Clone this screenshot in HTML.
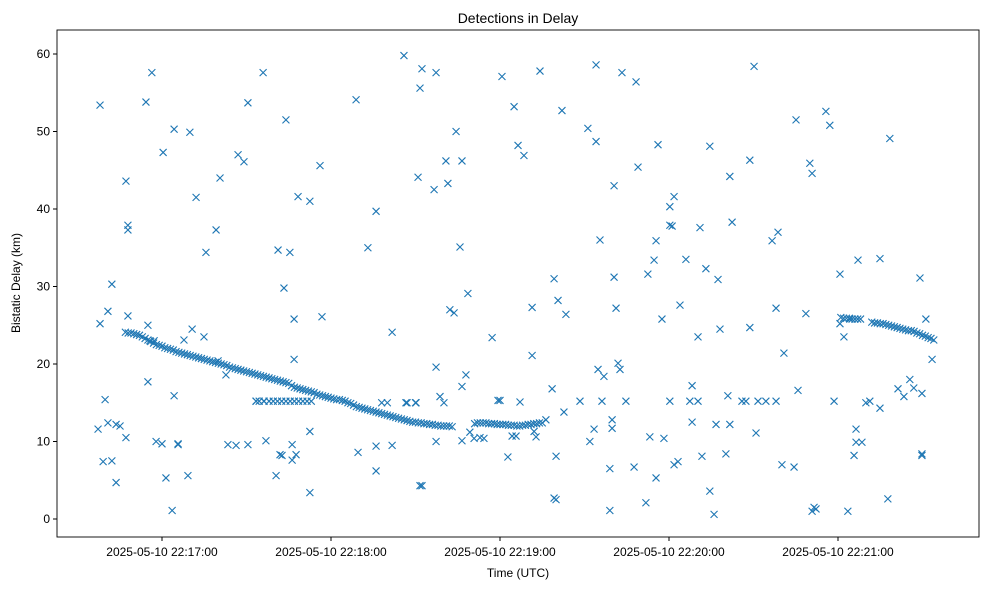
<!DOCTYPE html>
<html><head><meta charset="utf-8"><style>
html,body{margin:0;padding:0;background:#fff;}
svg text{font-family:"Liberation Sans","DejaVu Sans",sans-serif;fill:#000;}
</style></head><body>
<svg id="chart" width="989" height="590" xmlns="http://www.w3.org/2000/svg">
<rect x="0" y="0" width="989" height="590" fill="#fff"/>
<text x="518" y="23" font-size="14" text-anchor="middle">Detections in Delay</text>
<g id="marks"></g>
<g id="axes"></g>
<rect x="57" y="30" width="922" height="507" fill="none" stroke="#000" stroke-width="0.9"/>
<text x="518" y="577" font-size="12" text-anchor="middle">Time (UTC)</text>
<text x="20" y="283" font-size="12" text-anchor="middle" transform="rotate(-90 20 283)">Bistatic Delay (km)</text>
</svg>
<script>
// times in seconds since 22:16:00 UTC, values in km
const xTickSeconds = [60, 120, 180, 240, 300];
const xTickLabels = ["2025-05-10 22:17:00","2025-05-10 22:18:00","2025-05-10 22:19:00","2025-05-10 22:20:00","2025-05-10 22:21:00"];
const yTicks = [0, 10, 20, 30, 40, 50, 60];

const scatterTimes = [37.3,38.0,38.0,39.1,39.8,40.8,40.8,42.2,42.2,43.7,43.7,45.1,47.2,47.9,47.9,47.9,47.2,54.3,55.0,55.0,56.4,55.7,57.2,57.9,60,60.4,61.4,63.6,64.3,64.3,65.7,65.7,67.8,69.2,69.9,70.7,72.1,74.9,75.6,79.2,79.9,80.6,82.7,83.4,86.3,87.0,89.1,90.5,90.5,93.4,95.9,96.9,96.2,100.5,101.2,101.9,102.6,103.3,104.0,105.4,106.2,106.2,106.9,106.9,107.6,108.3,112.5,112.5,112.5,116.1,116.8,128.9,129.6,133.1,136.0,136.0,136.0,141.7,141.7,145.9,146.6,150.9,151.6,152.3,152.3,151.6,150.2,157.3,156.6,157.3,157.3,158.7,160.1,160.8,161.5,162.2,163.7,164.4,165.8,166.5,166.5,166.5,167.9,168.6,169.3,170.8,172.9,174.3,177.2,179.3,180.0,180.7,182.8,184.3,185.0,185.7,186.4,187.1,188.5,191.4,191.4,192.1,192.8,194.2,196.3,198.5,199.2,199.2,199.9,199.9,200.6,202.0,202.7,203.4,208.4,211.2,211.9,213.4,214.1,214.1,214.8,215.5,216.2,216.9,219.0,219.0,219.8,219.8,220.5,220.5,221.2,221.9,222.6,223.3,224.7,227.6,228.3,229.0,231.8,232.5,233.2,234.7,235.4,235.4,236.1,237.5,238.2,240.3,240.3,240.3,241.1,241.8,241.8,243.2,243.9,246.0,247.4,248.2,248.2,250.3,250.3,251.0,251.7,253.1,254.5,254.5,256.0,256.7,257.4,258.1,260.2,260.9,261.6,261.6,262.4,265.9,267.3,268.7,268.7,270.2,270.9,271.6,274.4,276.6,278.0,278.0,278.7,280.1,280.8,284.4,285.1,285.8,288.6,290.0,290.8,290.8,291.5,292.2,295.7,297.1,298.6,300.7,300.7,302.1,303.5,304.2,305.7,306.4,306.4,307.1,308.5,309.9,311.3,314.9,314.9,317.7,318.4,321.3,323.4,325.5,326.9,329.1,329.8,329.8,329.8,331.2,333.4,
93.4,94.5,96.2,98.0,99.5,101.0,102.5,104.0,105.5,107.0,108.5,110.0,111.5,113.0,138,140,147,150];
const scatterValues = [11.6,53.4,25.2,7.4,15.4,26.8,12.4,30.3,7.5,4.7,12.2,12.0,43.6,37.9,37.3,26.2,10.5,53.8,17.7,25.0,57.6,23.0,23.0,10.0,9.7,47.3,5.3,1.1,50.3,15.9,9.6,9.7,23.1,5.6,49.9,24.5,41.5,23.5,34.4,37.3,20.4,44.0,18.6,9.6,9.5,47.0,46.1,53.7,9.6,15.2,57.6,10.1,15.2,5.6,34.7,8.3,8.2,29.8,51.5,34.4,7.6,9.6,20.6,25.8,8.3,41.6,41.0,11.3,3.4,45.6,26.1,54.1,8.6,35.0,39.7,9.4,6.2,9.5,24.1,59.8,15.0,44.1,4.3,4.3,58.1,55.6,15.0,57.6,42.5,19.6,10.0,15.8,15.0,46.2,43.3,27.0,26.6,50.0,35.1,10.1,46.2,17.1,18.6,29.1,11.2,10.4,10.5,10.4,23.4,15.3,15.3,57.1,8.0,10.7,53.2,10.7,48.2,15.1,46.9,27.3,21.1,11.3,10.6,57.8,12.8,16.8,2.7,31.0,8.1,2.5,28.2,52.7,13.8,26.4,15.2,50.4,10.0,11.6,58.6,48.7,19.3,36.0,15.2,18.4,6.5,1.1,11.7,12.8,31.2,43.0,27.2,20.1,19.3,57.6,15.2,6.7,56.4,45.4,2.1,31.6,10.6,33.4,35.9,5.3,48.3,25.8,10.4,15.2,37.9,40.3,37.8,41.6,7.0,7.4,27.6,33.5,15.2,12.5,17.2,15.2,23.5,37.6,8.1,32.3,48.1,3.6,0.6,12.2,30.9,24.5,8.4,15.9,44.2,12.2,38.3,15.2,15.2,24.7,46.3,58.4,11.1,15.2,15.2,35.9,15.2,27.2,37.0,7.0,21.4,6.7,51.5,16.6,26.5,45.9,1.0,44.6,1.5,1.3,52.6,50.8,15.2,31.6,25.2,23.5,1.0,25.8,8.2,11.6,9.9,33.4,9.9,15.0,15.2,14.3,33.6,2.6,49.1,16.8,15.8,18.0,16.9,31.1,8.4,8.2,16.2,25.8,20.6,
15.2,15.2,15.2,15.2,15.2,15.2,15.2,15.2,15.2,15.2,15.2,15.2,15.2,15.2,15.0,15.0,15.0,15.0];

const trackAStart = 47;
const trackAValues = [24.1,24.0,24.0,23.9,23.8,23.7,23.5,23.3,23.1,22.9,22.7,22.5,22.4,22.3,22.1,22.0,21.9,21.8,21.6,21.5,21.4,21.3,21.2,21.1,21.0,20.9,20.8,20.7,20.6,20.5,20.4,20.3,20.2,20.1,20.0,19.9,19.8,19.6,19.5,19.4,19.3,19.2,19.1,19.0,18.9,18.8,18.7,18.6,18.5,18.4,18.3,18.2,18.1,18.0,17.9,17.8,17.7,17.6,17.5,17.2,17.0,16.9,16.8,16.7,16.6,16.5,16.4,16.3,16.1,16.0,15.9,15.8,15.7,15.6,15.5,15.4,15.4,15.3,15.2,15.0,14.9,14.7,14.5,14.4,14.3,14.2,14.1,14.0,13.9,13.8,13.7,13.6,13.5,13.4,13.3,13.2,13.1,13.0,12.9,12.8,12.7,12.6,12.5,12.5,12.4,12.4,12.3,12.3,12.2,12.2,12.1,12.1,12.0,12.0,12.0,12.0,11.9];
const trackBStart = 171;
const trackBValues = [12.3,12.4,12.4,12.4,12.4,12.3,12.3,12.3,12.2,12.2,12.2,12.2,12.1,12.1,12.1,12.0,12.0,12.1,12.1,12.2,12.2,12.3,12.3,12.4,12.4];
const trackCStart = 301;
const trackCValues = [26.0,25.9,25.9,25.9,25.8,25.8,25.8,25.8];
const trackDStart = 312;
const trackDValues = [25.4,25.3,25.3,25.2,25.2,25.1,25.0,24.9,24.8,24.7,24.6,24.5,24.4,24.3,24.3,24.2,24.0,23.9,23.7,23.6,23.4,23.3,23.1];

const NS = "http://www.w3.org/2000/svg";
function xScale(t){ return 162 + (t - 60) * (169/60); }
function yScale(v){ return 519 - v * 7.75; }

const marks = document.getElementById("marks");
function drawX(t, v){
  const cx = xScale(t), cy = yScale(v), s = 3.5;
  const p = document.createElementNS(NS, "path");
  p.setAttribute("d", `M${cx-s},${cy-s}L${cx+s},${cy+s}M${cx-s},${cy+s}L${cx+s},${cy-s}`);
  p.setAttribute("stroke", "#1f77b4");
  p.setAttribute("stroke-width", "1.1");
  p.setAttribute("fill", "none");
  
  
  marks.appendChild(p);
}
scatterTimes.forEach((t, i) => drawX(t, scatterValues[i]));
trackAValues.forEach((v, i) => drawX(trackAStart + i, v));
trackBValues.forEach((v, i) => drawX(trackBStart + i, v));
trackCValues.forEach((v, i) => drawX(trackCStart + i, v));
trackDValues.forEach((v, i) => drawX(trackDStart + i, v));

const axes = document.getElementById("axes");
yTicks.forEach(v => {
  const y = yScale(v);
  const l = document.createElementNS(NS, "line");
  l.setAttribute("x1", 53); l.setAttribute("x2", 57);
  l.setAttribute("y1", y); l.setAttribute("y2", y);
  l.setAttribute("stroke", "#000");
  
  
  axes.appendChild(l);
  const tx = document.createElementNS(NS, "text");
  tx.setAttribute("x", 50); tx.setAttribute("y", y + 4);
  tx.setAttribute("font-size", "12"); tx.setAttribute("text-anchor", "end");
  tx.textContent = String(v);
  
  
  axes.appendChild(tx);
});
xTickSeconds.forEach((t, i) => {
  const x = xScale(t);
  const l = document.createElementNS(NS, "line");
  l.setAttribute("x1", x); l.setAttribute("x2", x);
  l.setAttribute("y1", 537); l.setAttribute("y2", 541);
  l.setAttribute("stroke", "#000");
  
  
  axes.appendChild(l);
  const tx = document.createElementNS(NS, "text");
  tx.setAttribute("x", x); tx.setAttribute("y", 556);
  tx.setAttribute("font-size", "12"); tx.setAttribute("text-anchor", "middle");
  tx.textContent = xTickLabels[i];
  
  
  axes.appendChild(tx);
});
</script>
</body></html>
